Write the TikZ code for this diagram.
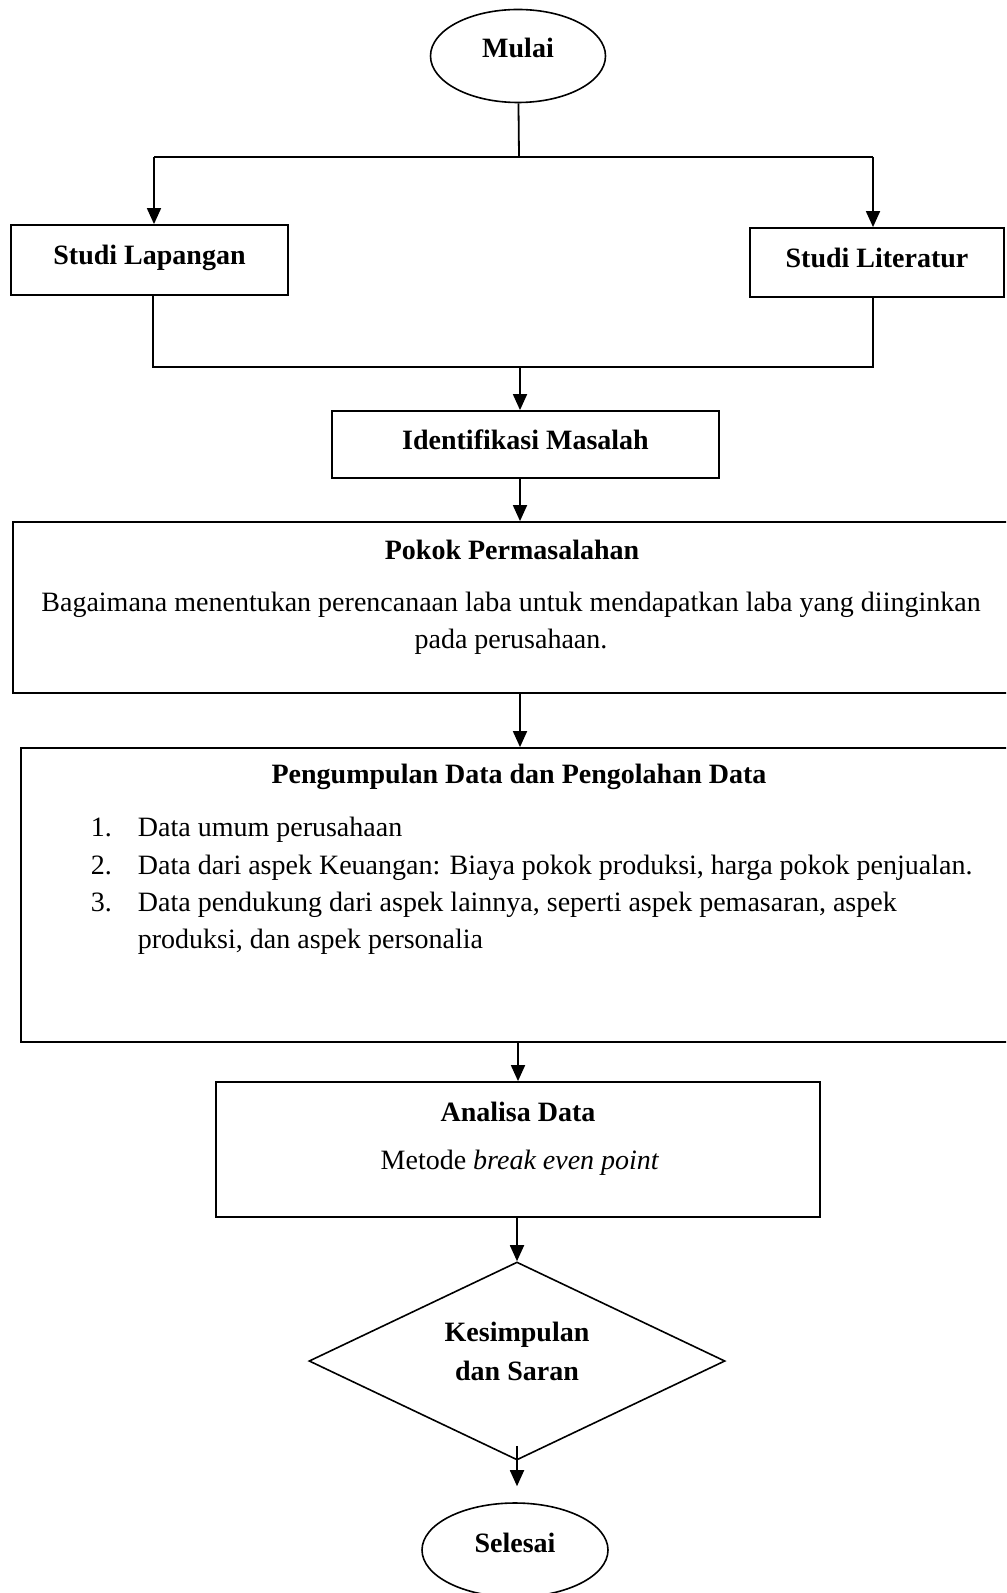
\documentclass[tikz,border=0pt]{standalone}
\usepackage{fontspec}
\setmainfont{Liberation Serif}
\usepackage{tikz}
\usetikzlibrary{shapes,arrows.meta,positioning}
\tikzstyle{Block} = [draw, rectangle, line width=0.9pt, inner sep=0pt, font=\fontsize{14}{18.5}\selectfont\bfseries]
\tikzstyle{Terminal} = [draw, ellipse, line width=0.8pt, inner sep=0pt, font=\fontsize{14}{18.5}\selectfont\bfseries]
\tikzstyle{Decision} = [draw, diamond, line width=0.8pt, inner sep=0pt]
\tikzstyle{Title} = [inner sep=0pt, align=center, font=\fontsize{14}{19.5}\selectfont\bfseries]
\tikzstyle{Text} = [inner sep=0pt, align=center, font=\fontsize{14}{18.5}\selectfont]

\begin{document}
\begin{tikzpicture}[x=0.5pt, y=-0.5pt, line width=0.9pt, >={Triangle[length=8pt,width=7pt]}]
    \clip (0,0) rectangle (1006,1593);
    \node[Terminal, minimum width=87.5pt, minimum height=46.5pt] (mulai)      at (518,56)      {\raisebox{8pt}{Mulai}};
    \node[Block, minimum width=138.5pt, minimum height=35pt]   (lapangan)     at (149.5,260)   {\raisebox{5pt}{Studi Lapangan}};
    \node[Block, minimum width=127pt, minimum height=34.5pt]   (literatur)    at (877,262.5)   {\raisebox{5pt}{Studi Literatur}};
    \node[Block, minimum width=193.5pt, minimum height=33.5pt] (identifikasi) at (525.5,444.5) {\raisebox{5pt}{Identifikasi Masalah}};
    \node[Block, minimum width=508.5pt, minimum height=85.5pt] (pokok)        at (521.5,607.5) {};
    \node[Title] (pokok_title) at (512,550) {Pokok Permasalahan};
    \node[Text]  (pokok_text)  at (511,623) {Bagaimana menentukan perencanaan laba untuk mendapatkan laba yang diinginkan\\pada perusahaan.};
    \node[Block, minimum width=504.5pt, minimum height=147pt]  (data)         at (525.5,895)   {};
    \node[Title] (data_title)  at (519,777) {Pengumpulan Data dan Pengolahan Data};
    \node[Text, anchor=west, align=left, font=\fontsize{14}{18.65}\selectfont] (data_list) at (90,886)
        {\makebox[23.5pt][l]{1.}Data umum perusahaan\\
         \makebox[23.5pt][l]{2.}Data dari aspek Keuangan: Biaya pokok produksi, harga pokok penjualan.\\
         \makebox[23.5pt][l]{3.}Data pendukung dari aspek lainnya, seperti aspek pemasaran, aspek\\
         \hspace*{23.5pt}produksi, dan aspek personalia};
    \node[Block, minimum width=302pt, minimum height=67.5pt]   (analisa)      at (518,1149.5)  {};
    \node[Title] (analisa_title) at (518,1112) {Analisa Data};
    \node[Text]  (analisa_text)  at (520,1163) {Metode \textit{break even point}};
    \node[Decision, minimum width=208pt, minimum height=99pt]  (kesimpulan)   at (517,1361)    {};
    \node[Title] (kesimpulan_text) at (517,1351) {Kesimpulan\\dan Saran};
    \node[Terminal, minimum width=93pt, minimum height=47pt]   (selesai)      at (515,1550)    {\raisebox{7pt}{Selesai}};

    \coordinate (split)   at (519,157);
    \coordinate (split_l) at (154,157);
    \coordinate (split_r) at (873,157);
    \coordinate (join)    at (520,367);
    \coordinate (join_l)  at (153,367);
    \coordinate (join_r)  at (873,367);

    \draw (mulai) -- (split);
    \draw (split_l) -- (split_r);
    \draw[->] (split_l) -- (split_l |- lapangan.north);
    \draw[->] (split_r) -- (split_r |- literatur.north);
    \draw (join_l |- lapangan.south) -- (join_l) -- (join_r) -- (join_r |- literatur.south);
    \draw[->] (join) -- (join |- identifikasi.north);
    \draw[->] (identifikasi.south -| join) -- (pokok.north -| join);
    \draw[->] (pokok.south -| join) -- (data.north -| join);
    \draw[->] (data.south -| analisa) -- (analisa.north);
    \draw[->] (analisa.south -| kesimpulan) -- (kesimpulan.north);
    \draw[->] ([yshift=7.5pt]kesimpulan.south) -- ([yshift=8pt]kesimpulan.south |- selesai.north);
  \end{tikzpicture}
\end{document}
